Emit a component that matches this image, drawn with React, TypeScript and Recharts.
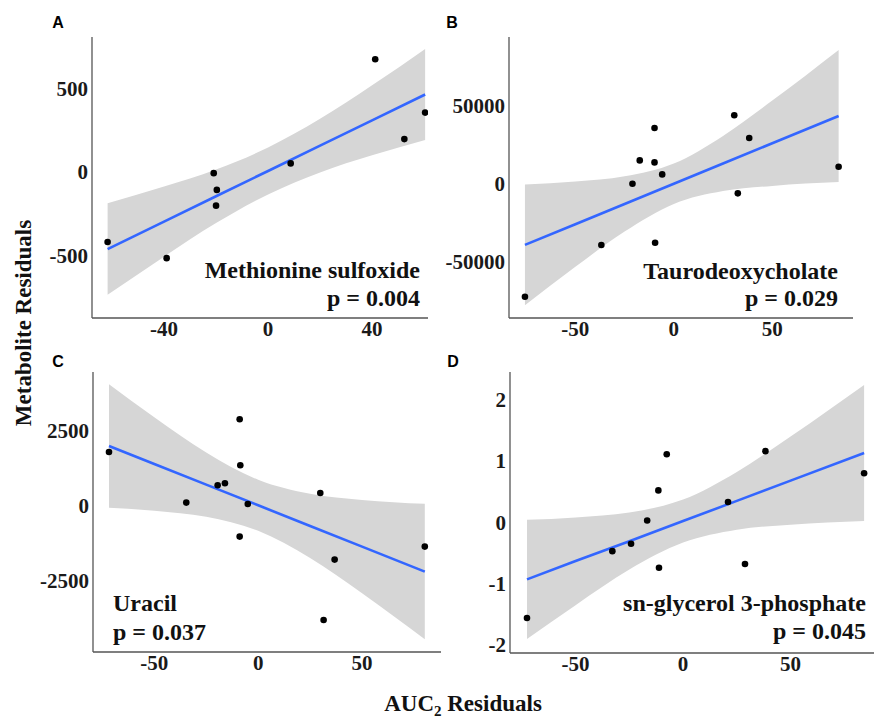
import React from 'react';
import { ComposedChart, XAxis, YAxis, Area, Line, Scatter } from 'recharts';

// Panel A - Methionine sulfoxide
const aPtX = [-61.7, -39, -20.9, -19.7, -20, 8.7, 41.2, 52.4, 60.4];
const aPtY = [-418, -514, -7, -107, -201, 51, 672, 196, 354];
const aBandX = [-61.7, -40, -20, 0, 20, 40, 60.4];
const aFit = [-460, -296, -145, 6, 157, 308, 462];
const aUpper = [-187, -87, 15, 146, 317, 517, 734];
const aLower = [-733, -505, -305, -134, -3, 99, 190];

// Panel B - Taurodeoxycholate
const bPtX = [-75.6, -36.8, -21, -17.3, -9.8, -9.8, -9.5, -5.9, 30.7, 32.5, 38.3, 83.7];
const bPtY = [-72600, -39400, 0, 15000, 35800, 13700, -37900, 6000, 44000, -6200, 29400, 10900];
const bBandX = [-75.6, -50, -25, 0, 25, 50, 83.7];
const bFit = [-39300, -26000, -13000, 0, 13000, 26000, 43500];
const bUpper = [-560, 1410, 4740, 13000, 30740, 53410, 85940];
const bLower = [-78040, -53410, -30740, -13000, -4740, -1410, 1060];

// Panel C - Uracil
const cPtX = [-71.8, -34.6, -19.5, -16, -8.9, -8.6, -8.9, -5, 29.9, 36.8, 31.5, 80.2];
const cPtY = [1777, 90, 667, 733, 2867, 1333, -1043, 43, 410, -1810, -3823, -1377];
const cBandX = [-71.8, -50, -25, 0, 25, 50, 80.2];
const cFit = [1978, 1378, 689, 0, -689, -1378, -2210];
const cUpper = [4034, 2934, 1760, 850, 382, 178, 48];
const cLower = [-78, -178, -382, -850, -1760, -2934, -4468];

// Panel D - sn-glycerol 3-phosphate
const dPtX = [-72.6, -32.9, -24.2, -16.7, -11.5, -11.2, -7.6, 20.9, 28.8, 38.3, 84.2];
const dPtY = [-1.56, -0.47, -0.35, 0.03, 0.52, -0.74, 1.11, 0.33, -0.68, 1.16, 0.8];
const dBandX = [-72.6, -50, -25, 0, 25, 50, 84.2];
const dFit = [-0.93, -0.63, -0.31, 0.02, 0.35, 0.68, 1.13];
const dUpper = [0.04, 0.08, 0.16, 0.37, 0.82, 1.4, 2.24];
const dLower = [-1.9, -1.35, -0.77, -0.33, -0.12, -0.04, 0.02];

const xTicksA = [-40, 0, 40];
const yTicksA = [-500, 0, 500];
const xTicksB = [-50, 0, 50];
const yTicksB = [-50000, 0, 50000];
const xTicksC = [-50, 0, 50];
const yTicksC = [-2500, 0, 2500];
const xTicksD = [-50, 0, 50];
const yTicksD = [-2, -1, 0, 1, 2];

const SERIF = "'Liberation Serif', 'Times New Roman', serif";
const SANS = "'Liberation Sans', Arial, sans-serif";

const tickStyle = { fontFamily: SERIF, fontWeight: 700, fontSize: 21, fill: '#1a1a1a' };
const axisLineStyle = { stroke: '#555', strokeWidth: 1.3 };

const Dot = (props: any) => <circle cx={props.cx} cy={props.cy} r={3.3} fill="#000" />;

interface PanelProps {
  plot: { l: number; t: number; r: number; b: number };
  xDomain: number[];
  yDomain: number[];
  xTicks: number[];
  yTicks: number[];
  ptX: number[];
  ptY: number[];
  bandX: number[];
  fit: number[];
  upper: number[];
  lower: number[];
}

const Panel = ({ plot, xDomain, yDomain, xTicks, yTicks, ptX, ptY, bandX, fit, upper, lower }: PanelProps) => {
  const yw = 90;
  const xh = 40;
  const top = 5;
  const bandData = bandX.map((x, i) => ({ x, band: [lower[i], upper[i]], fit: fit[i] }));
  const points = ptX.map((x, i) => ({ x, y: ptY[i] }));
  return (
    <div style={{ position: 'absolute', left: plot.l - yw, top: plot.t - top }}>
      <ComposedChart
        width={plot.r - plot.l + yw}
        height={plot.b - plot.t + top + xh}
        data={bandData}
        margin={{ top, right: 0, bottom: 0, left: 0 }}
      >
        <XAxis
          type="number"
          dataKey="x"
          domain={xDomain}
          ticks={xTicks}
          allowDataOverflow
          interval={0}
          height={xh}
          tickLine={false}
          tickSize={3}
          tickMargin={0}
          axisLine={axisLineStyle}
          tick={tickStyle}
        />
        <YAxis
          type="number"
          domain={yDomain}
          ticks={yTicks}
          allowDataOverflow
          interval={0}
          width={yw}
          tickLine={false}
          tickSize={3}
          tickMargin={1}
          axisLine={axisLineStyle}
          tick={tickStyle}
        />
        <Area dataKey="band" type="monotone" fill="#d6d6d6" fillOpacity={1} stroke="none" isAnimationActive={false} />
        <Line dataKey="fit" type="linear" stroke="#3366ff" strokeWidth={2.6} dot={false} isAnimationActive={false} />
        <Scatter data={points} dataKey="y" shape={Dot} isAnimationActive={false} />
      </ComposedChart>
    </div>
  );
};

const App = () => {
  const big = { fontFamily: SERIF, fontWeight: 700, fontSize: 24, fill: '#111' };
  const title = { fontFamily: SERIF, fontWeight: 700, fontSize: 23, fill: '#111' };
  const letter = { fontFamily: SANS, fontWeight: 700, fontSize: 16, fill: '#000' };
  return (
    <div style={{ position: 'absolute', left: 0, top: 0, width: 874, height: 726, overflow: 'hidden', background: '#fff' }}>
      <Panel plot={{ l: 92, t: 37, r: 428, b: 318 }} xDomain={[-67.7, 61.5]} yDomain={[-871, 805]}
        xTicks={xTicksA} yTicks={yTicksA} ptX={aPtX} ptY={aPtY} bandX={aBandX} fit={aFit} upper={aUpper} lower={aLower} />
      <Panel plot={{ l: 509, t: 37, r: 853, b: 318 }} xDomain={[-83.7, 91]} yDomain={[-86300, 94300]}
        xTicks={xTicksB} yTicks={yTicksB} ptX={bPtX} ptY={bPtY} bandX={bBandX} fit={bFit} upper={bUpper} lower={bLower} />
      <Panel plot={{ l: 93, t: 372, r: 441, b: 652 }} xDomain={[-79.5, 88]} yDomain={[-4890, 4443]}
        xTicks={xTicksC} yTicks={yTicksC} ptX={cPtX} ptY={cPtY} bandX={cBandX} fit={cFit} upper={cUpper} lower={cLower} />
      <Panel plot={{ l: 510, t: 372, r: 874, b: 653 }} xDomain={[-80.5, 88.8]} yDomain={[-2.13, 2.45]}
        xTicks={xTicksD} yTicks={yTicksD} ptX={dPtX} ptY={dPtY} bandX={dBandX} fit={dFit} upper={dUpper} lower={dLower} />
      <svg width={874} height={726} style={{ position: 'absolute', left: 0, top: 0, pointerEvents: 'none' }}>
        <text x={58} y={28} textAnchor="middle" {...letter}>A</text>
        <text x={452} y={28} textAnchor="middle" {...letter}>B</text>
        <text x={58} y={367} textAnchor="middle" {...letter}>C</text>
        <text x={453} y={367} textAnchor="middle" {...letter}>D</text>

        <text x={420} y={278} textAnchor="end" {...big}>Methionine sulfoxide</text>
        <text x={420} y={306} textAnchor="end" {...big}>p = 0.004</text>
        <text x={838} y={279} textAnchor="end" {...big}>Taurodeoxycholate</text>
        <text x={838} y={306} textAnchor="end" {...big}>p = 0.029</text>
        <text x={113} y={611} textAnchor="start" {...big}>Uracil</text>
        <text x={113} y={640} textAnchor="start" {...big}>p = 0.037</text>
        <text x={866} y={611} textAnchor="end" {...big}>sn-glycerol 3-phosphate</text>
        <text x={866} y={639} textAnchor="end" {...big}>p = 0.045</text>

        <text x={0} y={0} transform="translate(31,323) rotate(-90)" textAnchor="middle" {...title}>Metabolite Residuals</text>
        <text x={463} y={711} textAnchor="middle" {...title}>
          AUC<tspan fontSize={15} dy={5}>2</tspan><tspan dy={-5}> Residuals</tspan>
        </text>
      </svg>
    </div>
  );
};

export default App;
